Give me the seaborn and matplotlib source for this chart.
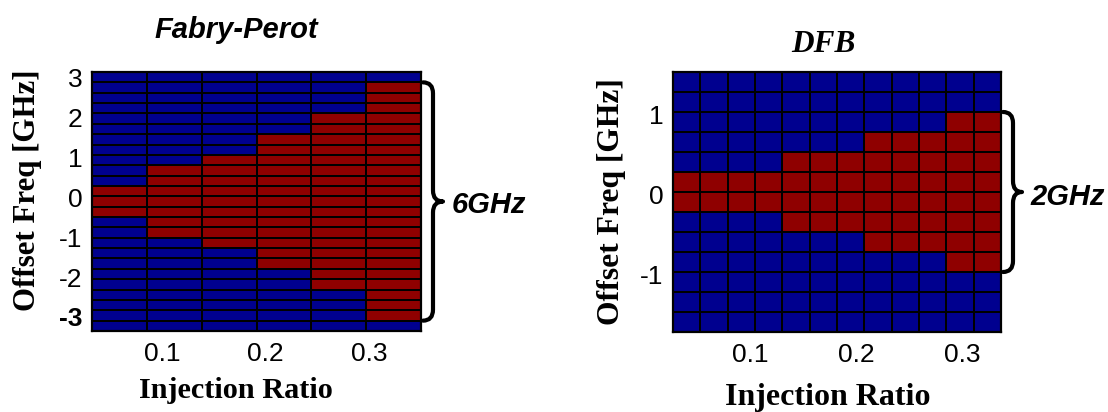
import numpy as np
import pandas as pd
import matplotlib
matplotlib.use("Agg")
import matplotlib.pyplot as plt
from matplotlib.colors import ListedColormap
from matplotlib.path import Path
from matplotlib.patches import PathPatch
import seaborn as sns

# ---------------- data ----------------
# Fabry-Perot: injection ratio (column centres) and offset frequency (row centres, GHz)
fp_ratio = [0.059, 0.112, 0.165, 0.218, 0.271, 0.324]
fp_freq = [3.08, 2.82, 2.56, 2.30, 2.04, 1.78, 1.52, 1.26, 1.00, 0.74, 0.48, 0.22, -0.04,
           -0.30, -0.56, -0.82, -1.08, -1.34, -1.60, -1.86, -2.12, -2.38, -2.64, -2.90, -3.16]
# 1 = locked (red), 0 = unlocked (blue); rows top -> bottom
fp_lock = [
    [0, 0, 0, 0, 0, 0],
    [0, 0, 0, 0, 0, 1],
    [0, 0, 0, 0, 0, 1],
    [0, 0, 0, 0, 0, 1],
    [0, 0, 0, 0, 1, 1],
    [0, 0, 0, 0, 1, 1],
    [0, 0, 0, 1, 1, 1],
    [0, 0, 0, 1, 1, 1],
    [0, 0, 1, 1, 1, 1],
    [0, 1, 1, 1, 1, 1],
    [0, 1, 1, 1, 1, 1],
    [1, 1, 1, 1, 1, 1],
    [1, 1, 1, 1, 1, 1],
    [1, 1, 1, 1, 1, 1],
    [0, 1, 1, 1, 1, 1],
    [0, 1, 1, 1, 1, 1],
    [0, 0, 1, 1, 1, 1],
    [0, 0, 0, 1, 1, 1],
    [0, 0, 0, 1, 1, 1],
    [0, 0, 0, 0, 1, 1],
    [0, 0, 0, 0, 1, 1],
    [0, 0, 0, 0, 0, 1],
    [0, 0, 0, 0, 0, 1],
    [0, 0, 0, 0, 0, 1],
    [0, 0, 0, 0, 0, 0],
]

# DFB
dfb_ratio = [0.040, 0.066, 0.092, 0.118, 0.143, 0.169, 0.195, 0.221, 0.247, 0.272, 0.298, 0.324]
dfb_freq = [1.44, 1.19, 0.94, 0.69, 0.44, 0.19, -0.06, -0.31, -0.56, -0.81, -1.06, -1.31, -1.56]
dfb_lock = [
    [0, 0, 0, 0, 0, 0, 0, 0, 0, 0, 0, 0],
    [0, 0, 0, 0, 0, 0, 0, 0, 0, 0, 0, 0],
    [0, 0, 0, 0, 0, 0, 0, 0, 0, 0, 1, 1],
    [0, 0, 0, 0, 0, 0, 0, 1, 1, 1, 1, 1],
    [0, 0, 0, 0, 1, 1, 1, 1, 1, 1, 1, 1],
    [1, 1, 1, 1, 1, 1, 1, 1, 1, 1, 1, 1],
    [1, 1, 1, 1, 1, 1, 1, 1, 1, 1, 1, 1],
    [0, 0, 0, 0, 1, 1, 1, 1, 1, 1, 1, 1],
    [0, 0, 0, 0, 0, 0, 0, 1, 1, 1, 1, 1],
    [0, 0, 0, 0, 0, 0, 0, 0, 0, 0, 1, 1],
    [0, 0, 0, 0, 0, 0, 0, 0, 0, 0, 0, 0],
    [0, 0, 0, 0, 0, 0, 0, 0, 0, 0, 0, 0],
    [0, 0, 0, 0, 0, 0, 0, 0, 0, 0, 0, 0],
]

x_ticks = [0.1, 0.2, 0.3]
fp_yticks = [3, 2, 1, 0, -1, -2, -3]
dfb_yticks = [1, 0, -1]

titles = ["Fabry-Perot", "DFB"]
range_labels = ["6GHz", "2GHz"]
xlabel = "Injection Ratio"
ylabel = "Offset Freq [GHz]"

# ---------------- style ----------------
BLUE = "#00008f"
RED = "#8f0000"
cmap = ListedColormap([BLUE, RED])
SANS = "Liberation Sans"
SERIF = "Liberation Serif"

sns.set_style("white")
plt.rcParams["font.family"] = [SANS, "DejaVu Sans"]
plt.rcParams["text.color"] = "black"
plt.rcParams["axes.labelcolor"] = "black"
plt.rcParams["xtick.color"] = "black"
plt.rcParams["ytick.color"] = "black"

W, H = 1108, 412
fig = plt.figure(figsize=(W / 100, H / 100), dpi=100)


def px_axes(l, t, r, b):
    return fig.add_axes([l / W, 1 - b / H, (r - l) / W, (b - t) / H])


ax_fp = px_axes(92, 72, 421, 331)
ax_dfb = px_axes(673, 72, 1001, 332)


def lin_pos(values, centres):
    """map data values to heatmap cell positions (cell i has centre i+0.5)"""
    c = np.asarray(centres, dtype=float)
    idx = np.arange(len(c)) + 0.5
    k, b0 = np.polyfit(c, idx, 1)
    return k * np.asarray(values, dtype=float) + b0


def draw_panel(ax, lock, ratio, freq, yticks, lw):
    df = pd.DataFrame(lock, index=freq, columns=ratio)
    sns.heatmap(df, ax=ax, cmap=cmap, vmin=0, vmax=1, cbar=False,
                linewidths=lw, linecolor="black", square=False)
    for s in ax.spines.values():
        s.set_visible(True)
        s.set_color("black")
        s.set_linewidth(1.6)
    ax.set_xticks(lin_pos(x_ticks, ratio))
    ax.set_xticklabels([f"{v:g}" for v in x_ticks], rotation=0)
    ax.set_yticks(lin_pos(yticks, freq))
    ax.set_yticklabels([f"{v:g}" for v in yticks], rotation=0)
    ax.tick_params(axis="both", length=0, labelsize=19, colors="black",
                   labelcolor="black")
    ax.tick_params(axis="x", pad=8)
    ax.tick_params(axis="y", pad=7)
    ax.set_xlabel("")
    ax.set_ylabel("")


draw_panel(ax_fp, fp_lock, fp_ratio, fp_freq, fp_yticks, 1.3)
draw_panel(ax_dfb, dfb_lock, dfb_ratio, dfb_freq, dfb_yticks, 1.3)
# bold bottom tick of Fabry-Perot, as in the original
ax_fp.get_yticklabels()[-1].set_fontweight("bold")


def draw_brace(ax, lock, x_px0, x_px1, x_px2, r_px, ax_w_px, ax_h_px):
    arr = np.asarray(lock)
    rows = np.where(arr.max(axis=1) > 0)[0]
    top, bot = rows.min(), rows.max() + 1
    nrows = arr.shape[0]
    r = r_px * nrows / ax_h_px
    mid = (top + bot) / 2
    x0 = 1 + x_px0 / ax_w_px
    x1 = 1 + x_px1 / ax_w_px
    x2 = 1 + x_px2 / ax_w_px
    verts = [(x0, top), (x1, top), (x1, top + r), (x1, mid - r),
             (x1, mid), (x2, mid), (x1, mid), (x1, mid + r),
             (x1, bot - r), (x1, bot), (x0, bot)]
    codes = [Path.MOVETO, Path.CURVE3, Path.CURVE3, Path.LINETO,
             Path.CURVE3, Path.CURVE3, Path.CURVE3, Path.CURVE3,
             Path.LINETO, Path.CURVE3, Path.CURVE3]
    patch = PathPatch(Path(verts, codes), facecolor="none", edgecolor="black",
                      lw=3.0, transform=ax.get_yaxis_transform(), clip_on=False,
                      capstyle="round", joinstyle="round")
    ax.add_patch(patch)


draw_brace(ax_fp, fp_lock, 2, 12, 22, 11, 329, 259)
draw_brace(ax_dfb, dfb_lock, 2, 12, 21, 11, 328, 260)


def ftext(x, y, s, **kw):
    fig.text(x / W, 1 - y / H, s, color="black", **kw)


ftext(236, 30, titles[0], ha="center", va="center", fontsize=21,
      fontweight="bold", fontstyle="italic", family=[SANS, "DejaVu Sans"])
ftext(823, 45, titles[1], ha="center", va="center", fontsize=22.5,
      fontweight="bold", fontstyle="italic", family=[SERIF, "DejaVu Serif"])

ftext(452, 205, range_labels[0], ha="left", va="center", fontsize=21,
      fontweight="bold", fontstyle="italic", family=[SANS, "DejaVu Sans"])
ftext(1030, 197, range_labels[1], ha="left", va="center", fontsize=21,
      fontweight="bold", fontstyle="italic", family=[SANS, "DejaVu Sans"])

ftext(236, 391, xlabel, ha="center", va="center", fontsize=21.8,
      fontweight="bold", family=[SERIF, "DejaVu Serif"])
ftext(828, 397, xlabel, ha="center", va="center", fontsize=23,
      fontweight="bold", family=[SERIF, "DejaVu Serif"])

ftext(28, 190, ylabel, ha="center", va="center", rotation=90, fontsize=22.2,
      fontweight="bold", family=[SERIF, "DejaVu Serif"])
ftext(612, 202, ylabel, ha="center", va="center", rotation=90, fontsize=22.8,
      fontweight="bold", family=[SERIF, "DejaVu Serif"])

fig.savefig("out.png", dpi=100, facecolor="white")
